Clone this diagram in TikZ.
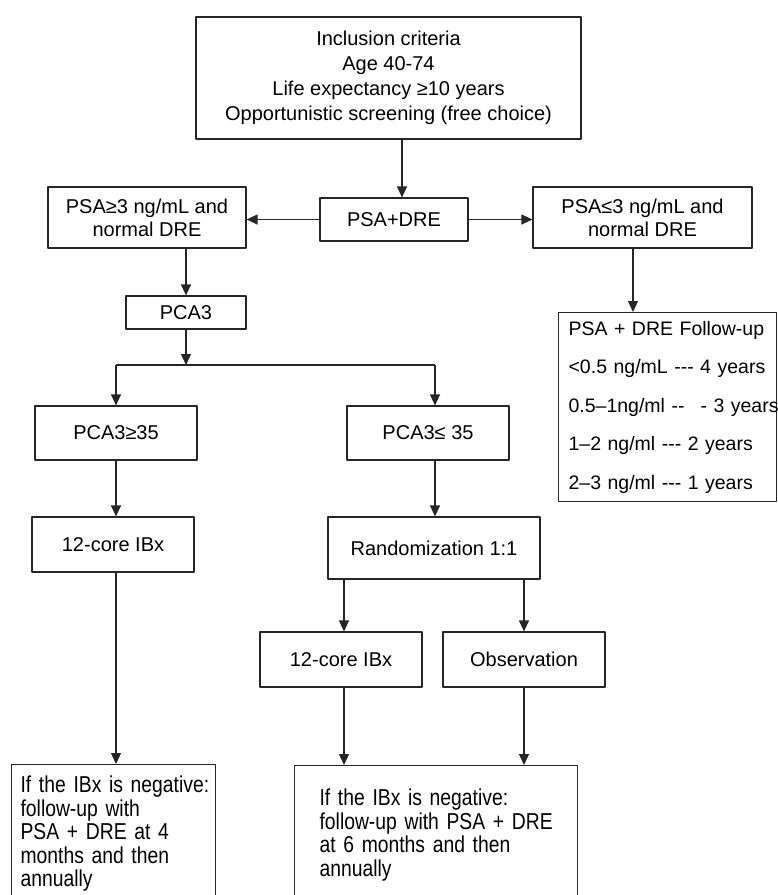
\documentclass[tikz,border=0pt]{standalone}
\usepackage{fontspec}
\setmainfont{Liberation Sans}
\newfontfamily\narrowfont[FakeStretch=0.84]{Liberation Sans}
\usetikzlibrary{arrows.meta}

\begin{document}
\begin{tikzpicture}[x=1pt,y=-1pt,>={Triangle[width=10pt,length=11pt]}, font=\fontsize{20}{25}\selectfont, line join=round,
		box/.style={draw=black!85,line width=1.2pt,inner sep=0pt,align=center},
		twoline/.style={box,font=\fontsize{20}{23}\selectfont},
		note/.style={draw=black!85,line width=1.2pt,align=left,anchor=north west,font=\narrowfont\fontsize{23}{23.5}\selectfont},
		link/.style={draw=black!85,line width=1.2pt}]
			\useasboundingbox (0,0) rectangle (778,895);
			% top of the chart
			\node[box,minimum width=385pt,minimum height=122pt] (crit) at (388.5,78) {Inclusion criteria\\Age 40-74\\Life expectancy ≥10 years\\Opportunistic screening (free choice)};
			\node[box,minimum width=148pt,minimum height=43pt] (psadre) at (394,219.5) {PSA+DRE};
			\node[twoline,minimum width=198pt,minimum height=61pt] (high) at (147,217.5) {PSA≥3 ng/mL and\\normal DRE};
			\node[twoline,minimum width=219pt,minimum height=61pt] (low) at (642.5,217.5) {PSA≤3 ng/mL and\\normal DRE};
			\node[box,minimum width=120pt,minimum height=33pt] (pca) at (186,312.5) {PCA3};
			\node[box,align=left,anchor=north west,inner xsep=10pt,text width=198pt,minimum height=189pt,font=\fontsize{19.5}{38.5}\selectfont] (fu) at (558,312) {\mbox{PSA + DRE Follow-up}\\\mbox{<0.5 ng/mL -{}-{}- 4 years}\\\mbox{0.5–1ng/ml -{}-\hspace{16pt}-{} 3 years}\\\mbox{1–2 ng/ml -{}-{}- 2 years}\\\mbox{2–3 ng/ml -{}-{}- 1 years}};
			% PCA3 branches
			\coordinate (split) at (186,365);
			\coordinate (sl) at (116,365);
			\coordinate (sr) at (435,365);
			\node[box,minimum width=162pt,minimum height=54pt] (ge35) at (116,433) {PCA3≥35};
			\node[box,minimum width=162pt,minimum height=54pt] (le35) at (428,433) {PCA3≤ 35};
			\node[box,minimum width=162pt,minimum height=55pt] (ibxa) at (113,544.5) {12-core IBx};
			\node[box,minimum width=212pt,minimum height=62pt] (rand) at (434,548) {Randomization 1:1};
			\node[box,minimum width=162pt,minimum height=55pt] (ibxb) at (341,659.5) {12-core IBx};
			\node[box,minimum width=162pt,minimum height=55pt] (obs) at (524,659.5) {Observation};
			\node[note,inner xsep=9pt,inner ysep=11.5pt,text width=186pt] (nega) at (11,764) {\mbox{If the IBx is negative:}\\\mbox{follow-up with}\\\mbox{PSA + DRE at 4}\\\mbox{months and then}\\\mbox{annually}};
			\node[note,inner xsep=25pt,inner ysep=23.5pt,text width=233pt] (negb) at (294,765) {\mbox{If the IBx is negative:}\\\mbox{follow-up with PSA + DRE}\\\mbox{at 6 months and then}\\\mbox{annually}};
			% arrows
			\draw[link,->] ([xshift=8pt]psadre.north |- crit.south) -- ([xshift=8pt]psadre.north);
			\draw[link,->] (psadre.west) -- (psadre.west -| high.east);
			\draw[link,->] (psadre.east) -- (psadre.east -| low.west);
			\draw[link,->] (pca.north |- high.south) -- (pca.north);
			\draw[link,->] ([xshift=-9.5pt]low.south) -- ([xshift=-9.5pt]low.south |- fu.north);
			\draw[link,->] (pca.south) -- (split);
			\draw[link] (sl) -- (sr);
			\draw[link,->] (sl) -- (ge35.north);
			\draw[link,->] (sr) -- (sr |- le35.north);
			\draw[link,->] (ge35.south) -- (ge35.south |- ibxa.north);
			\draw[link,->] (sr |- le35.south) -- (sr |- rand.north);
			\draw[link,->] ([xshift=3pt]ibxb.north |- rand.south) -- ([xshift=3pt]ibxb.north);
			\draw[link,->] (obs.north |- rand.south) -- (obs.north);
			\draw[link,->] (ge35.south |- ibxa.south) -- (ge35.south |- nega.north);
			\draw[link,->] ([xshift=3pt]ibxb.south) -- ([xshift=3pt]ibxb.south |- negb.north);
			\draw[link,->] (obs.south) -- (obs.south |- negb.north);
		\end{tikzpicture}
\end{document}
